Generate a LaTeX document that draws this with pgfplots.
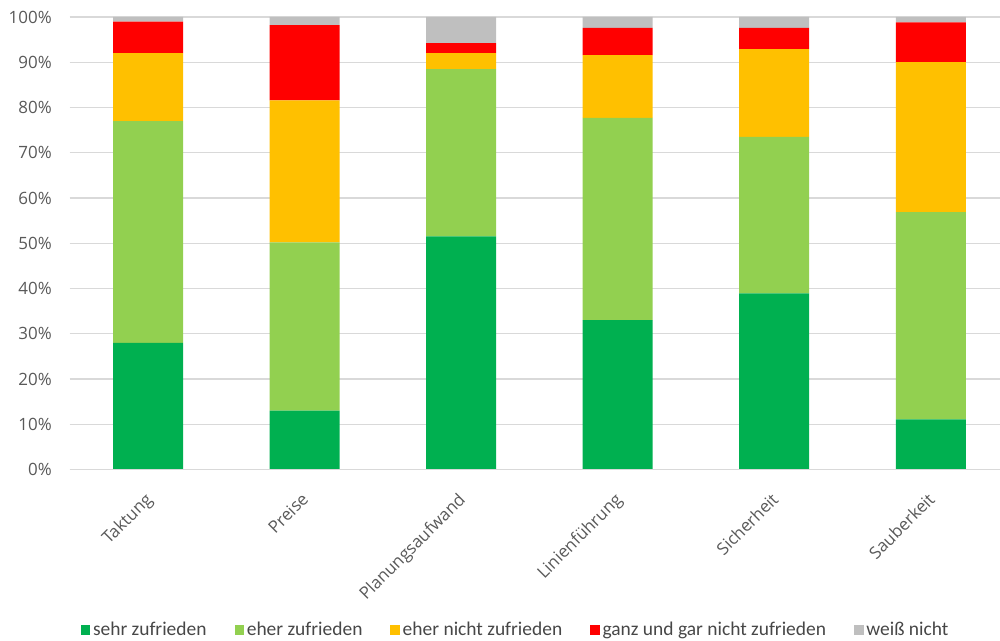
\documentclass[border=0pt]{standalone}
\usepackage{fontspec}
\setmainfont{Open Sans}
\newfontfamily\legendfont{Carlito}
\usepackage{pgfplots}
\usepackage{pgfplotstable}
\pgfplotsset{compat=1.18}

\definecolor{sehr}{HTML}{00B050}
\definecolor{eher}{HTML}{92D050}
\definecolor{ehernicht}{HTML}{FFC000}
\definecolor{ganz}{HTML}{FF0000}
\definecolor{weiss}{HTML}{BFBFBF}
\definecolor{gridgray}{HTML}{D9D9D9}
\definecolor{ticktext}{HTML}{595959}

% shares per aspect in percent
\pgfplotstableread{
x sehr eher ehernicht ganz weiss
0 28.0 49.0 15.0 7.0 1.0
1 13.0 37.2 31.4 16.6 1.8
2 51.5 37.0 3.5 2.2 5.8
3 33.0 44.7 13.9 6.0 2.4
4 38.9 34.6 19.4 4.7 2.4
5 11.1 45.8 33.1 8.8 1.2
}\survey

\begin{document}
\begin{tikzpicture}
\path[use as bounding box] (0,0) rectangle (750pt,480.75pt);
\begin{axis}[
  at={(52.3pt,128.6pt)}, anchor=south west,
  scale only axis,
  width=704.5pt, height=339.4pt,
  ybar stacked, bar width=52.5pt,
  xmin=-0.5, xmax=5.5, ymin=0, ymax=100,
  xtick=data,
  xticklabels={Taktung,Preise,Planungsaufwand,Linienführung,Sicherheit,Sauberkeit},
  x tick label style={font=\fontsize{12.7}{14}\selectfont, text=ticktext, inner sep=1pt, xshift=-3pt, yshift=-15pt, rotate=45, anchor=north east},
  ytick={0,10,...,100},
  yticklabel={\pgfmathprintnumber{\tick}\%},
  y tick label style={font=\fontsize{12.7}{14}\selectfont, text=ticktext, xshift=-10pt},
  /pgf/number format/assume math mode=true,
  ymajorgrids, grid style={gridgray, line width=0.9pt},
  axis line style={draw=none},
  major tick style={draw=none},
  clip=false,
  legend columns=5,
  legend style={at={(0.475,-0.354)}, anchor=center, draw=none, fill=none,
    font=\legendfont\fontsize{14.6}{16}\selectfont, text=ticktext!80!black,
    /tikz/every even column/.append style={column sep=19pt}},
  legend image code/.code={\fill[#1] (0pt,-3.6pt) rectangle (7.2pt,3.8pt);},
]
\draw[gridgray, line width=0.9pt] (axis cs:-0.5,0) -- (axis cs:5.5,0);
\addplot[fill=sehr, draw=none] table[x=x, y=sehr] {\survey};
\addplot[fill=eher, draw=none] table[x=x, y=eher] {\survey};
\addplot[fill=ehernicht, draw=none] table[x=x, y=ehernicht] {\survey};
\addplot[fill=ganz, draw=none] table[x=x, y=ganz] {\survey};
\addplot[fill=weiss, draw=none] table[x=x, y=weiss] {\survey};
\legend{sehr zufrieden, eher zufrieden, eher nicht zufrieden, ganz und gar nicht zufrieden, weiß nicht}
\end{axis}
\end{tikzpicture}
\end{document}
